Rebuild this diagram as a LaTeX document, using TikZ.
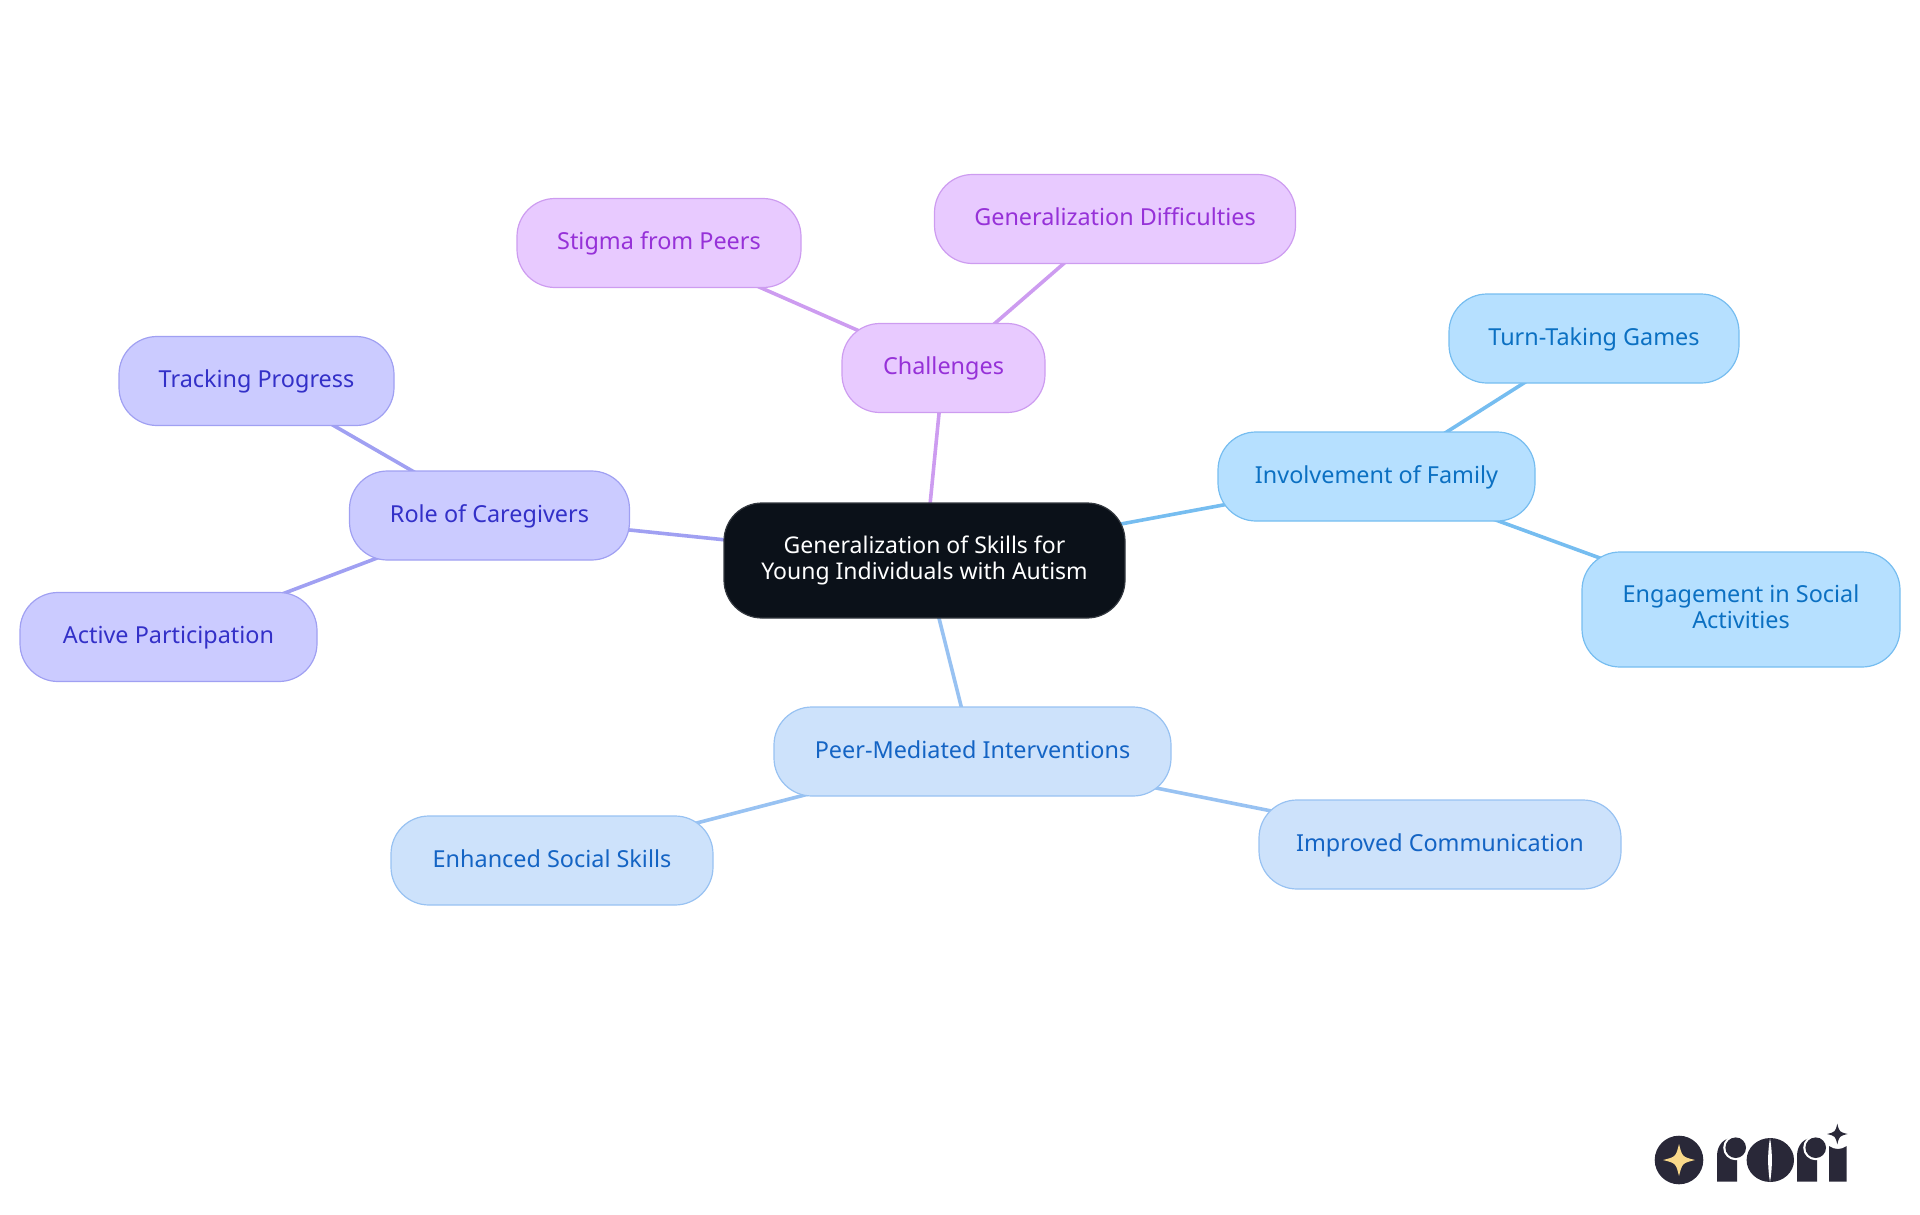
\documentclass[tikz,border=0pt]{standalone}
\usepackage{fontspec}
\setmainfont{Noto Sans}
\usetikzlibrary{backgrounds}

\definecolor{rootfill}{HTML}{0B1119}
\definecolor{rootline}{HTML}{33383F}
\definecolor{challfill}{HTML}{E8CAFF}
\definecolor{challline}{HTML}{CD9CF0}
\definecolor{challtext}{HTML}{9631D8}
\definecolor{rolefill}{HTML}{CBCBFF}
\definecolor{roleline}{HTML}{A0A0F2}
\definecolor{roletext}{HTML}{3330C8}
\definecolor{famfill}{HTML}{B6E0FF}
\definecolor{famline}{HTML}{76BDF0}
\definecolor{famtext}{HTML}{0B70C2}
\definecolor{peerfill}{HTML}{CDE2FB}
\definecolor{peerline}{HTML}{98C2F2}
\definecolor{peertext}{HTML}{1464C4}
\definecolor{logodark}{HTML}{292838}
\definecolor{logostar}{HTML}{F9D98A}

\tikzset{
	mapnode/.style={draw, line width=1.2pt, rounded corners=38pt, align=center, font=\fontsize{23.4}{26}\selectfont, inner sep=0pt, text height=19pt, text depth=6pt},
	twolines/.style={text height=, text depth=},
	rootnode/.style={mapnode, twolines, fill=rootfill, draw=rootline, text=white, font=\fontsize{23}{26}\selectfont},
	challnode/.style={mapnode, fill=challfill, draw=challline, text=challtext},
	rolenode/.style={mapnode, fill=rolefill, draw=roleline, text=roletext},
	famnode/.style={mapnode, fill=famfill, draw=famline, text=famtext},
	peernode/.style={mapnode, fill=peerfill, draw=peerline, text=peertext},
	edge/.style={line width=3.6pt}
}

\newcommand{\lineends}{\rule[-5pt]{0pt}{21pt}}
\newcommand{\sparkle}[4]{\fill[#4] (#1-#3,#2) .. controls (#1-#3*0.2,#2-#3*0.2) .. (#1,#2-#3) .. controls (#1+#3*0.2,#2-#3*0.2) .. (#1+#3,#2) .. controls (#1+#3*0.2,#2+#3*0.2) .. (#1,#2+#3) .. controls (#1-#3*0.2,#2+#3*0.2) .. cycle;}
\newcommand{\logor}[1]{
	\fill[logodark] (#1, 1181.7) -- (#1, 1156) .. controls (#1, 1145) and (#1+7, 1138) .. (#1+15, 1138) -- (#1+20, 1150) -- (#1+20, 1181.7) -- cycle;
	\fill[white] (#1+18.7, 1147.7) circle (12.5);
	\fill[logodark] (#1+18.7, 1147.7) circle (10.3);
}

\begin{document}
\begin{tikzpicture}[x=1pt, y=-1pt]
	\useasboundingbox (0, 0) rectangle (1920, 1215);

	\node[rootnode, minimum width=401pt, minimum height=115pt] (root) at (924.5, 560.5) {Generalization of Skills for\lineends\\Young Individuals with Autism\lineends};

	\node[challnode, minimum width=203pt, minimum height=89pt] (chall) at (943.5, 368) {Challenges};
	\node[challnode, minimum width=284pt, minimum height=89pt] (stigma) at (659, 243) {Stigma from Peers};
	\node[challnode, minimum width=361pt, minimum height=89pt] (gendiff) at (1115, 219) {Generalization Difficulties};

	\node[rolenode, minimum width=280pt, minimum height=89pt] (role) at (489.5, 515.5) {Role of Caregivers};
	\node[rolenode, minimum width=275pt, minimum height=89pt] (track) at (256.5, 381) {Tracking Progress};
	\node[rolenode, minimum width=297pt, minimum height=89pt] (active) at (168.5, 637) {Active Participation};

	\node[famnode, minimum width=317pt, minimum height=89pt] (family) at (1376.5, 476.5) {Involvement of Family};
	\node[famnode, minimum width=290pt, minimum height=89pt] (turn) at (1594, 338.5) {Turn-Taking Games};
	\node[famnode, twolines, minimum width=318pt, minimum height=115pt] (engage) at (1741, 609.5) {Engagement in Social\lineends\\Activities\lineends};

	\node[peernode, minimum width=397pt, minimum height=89pt] (peer) at (972.5, 751.5) {Peer-Mediated Interventions};
	\node[peernode, minimum width=322pt, minimum height=89pt] (enhanced) at (552, 860.5) {Enhanced Social Skills};
	\node[peernode, minimum width=362pt, minimum height=89pt] (improved) at (1440, 844.5) {Improved Communication};

	\begin{pgfonlayer}{background}
		\draw[edge, challline] (root.center) -- (chall.center);
		\draw[edge, challline] (chall.center) -- (stigma.center);
		\draw[edge, challline] (chall.center) -- (gendiff.center);

		\draw[edge, roleline] (root.center) -- (role.center);
		\draw[edge, roleline] (role.center) -- (track.center);
		\draw[edge, roleline] (role.center) -- (active.center);

		\draw[edge, famline] (root.center) -- (family.center);
		\draw[edge, famline] (family.center) -- (turn.center);
		\draw[edge, famline] (family.center) -- (engage.center);

		\draw[edge, peerline] (root.center) -- (peer.center);
		\draw[edge, peerline] (peer.center) -- (enhanced.center);
		\draw[edge, peerline] (peer.center) -- (improved.center);
	\end{pgfonlayer}

	% logo
	\fill[logodark] (1679, 1160) circle (24.3);
	\sparkle{1679}{1160}{16}{logostar}
	\logor{1717}
	\fill[logodark] (1770.3, 1160) ellipse [x radius=23.7, y radius=22];
	\fill[white] (1770, 1138) .. controls (1767.5, 1152) and (1767.5, 1168) .. (1770, 1182) .. controls (1772.5, 1168) and (1772.5, 1152) .. (1770, 1138) -- cycle;
	\logor{1797}
	\fill[logodark] (1829, 1181.7) -- (1829, 1146) .. controls (1835, 1150) and (1841, 1150) .. (1846.7, 1146) -- (1846.7, 1181.7) -- cycle;
	\sparkle{1837.3}{1134}{10.3}{logodark}
\end{tikzpicture}
\end{document}
